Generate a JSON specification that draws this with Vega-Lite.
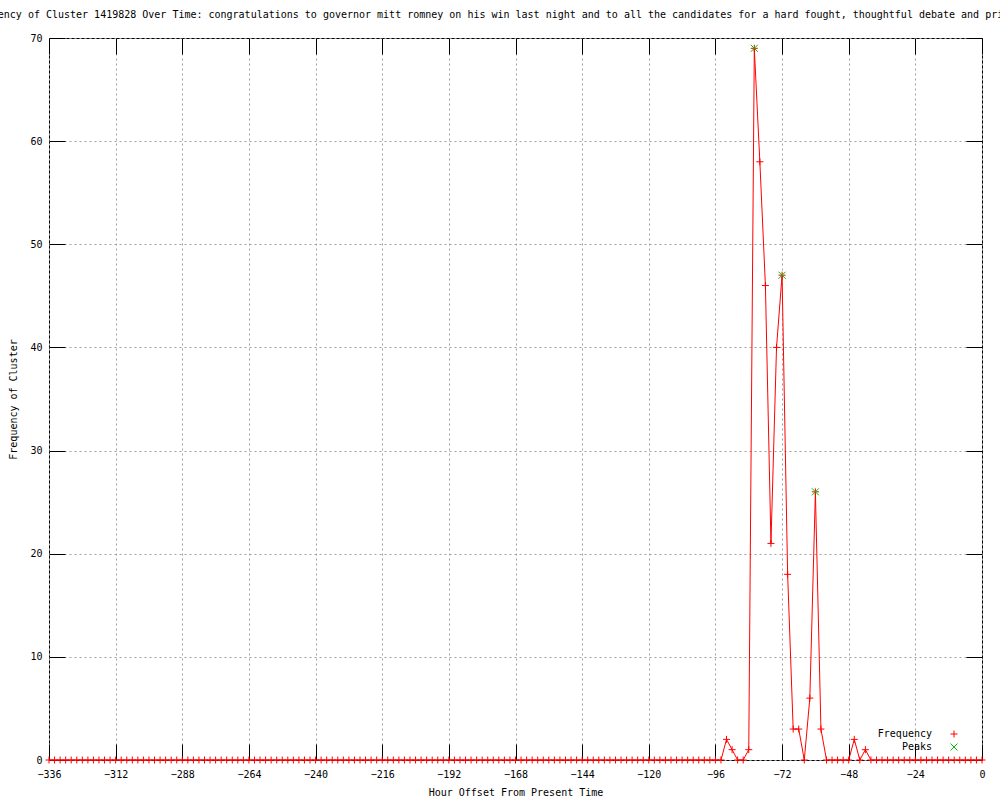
{
  "$schema": "https://vega.github.io/schema/vega-lite/v6.json",
  "width": 933,
  "height": 722,
  "autosize": {"type": "none"},
  "padding": {"left": 49, "top": 38, "right": 18, "bottom": 40},
  "background": "white",
  "title": {
    "text": "ency of Cluster 1419828 Over Time: congratulations to governor mitt romney on his win last night and to all the candidates for a hard fought, thoughtful debate and pri",
    "font": "DejaVu Sans Mono",
    "fontSize": 10,
    "fontWeight": "normal",
    "color": "black",
    "anchor": "middle",
    "frame": "group",
    "offset": 13,
    "dx": -15
  },
  "config": {
    "view": {"stroke": "black", "strokeWidth": 1},
    "axis": {
      "domain": false,
      "grid": true,
      "gridColor": "#a0a0a0",
      "gridDash": [2, 3],
      "gridWidth": 1,
      "gridOpacity": 1,
      "tickColor": "black",
      "tickWidth": 1,
      "tickSize": -16,
      "labelFont": "DejaVu Sans Mono",
      "labelFontSize": 10,
      "labelColor": "black",
      "titleFont": "DejaVu Sans Mono",
      "titleFontSize": 10,
      "titleFontWeight": "normal",
      "titleColor": "black",
      "labelFlush": false,
      "labelOverlap": false
    },
    "legend": {
      "orient": "none",
      "legendX": 900,
      "legendY": 691,
      "padding": 0,
      "symbolSize": 49,
      "symbolStrokeWidth": 1,
      "labelFont": "DejaVu Sans Mono",
      "labelFontSize": 10,
      "labelColor": "black",
      "labelAlign": "right",
      "labelOffset": -27,
      "rowPadding": 1
    }
  },
  "datasets": {
    "freq": [
      {"hour": -336, "freq": 0}, {"hour": -334, "freq": 0}, {"hour": -332, "freq": 0}, {"hour": -330, "freq": 0},
      {"hour": -328, "freq": 0}, {"hour": -326, "freq": 0}, {"hour": -324, "freq": 0}, {"hour": -322, "freq": 0},
      {"hour": -320, "freq": 0}, {"hour": -318, "freq": 0}, {"hour": -316, "freq": 0}, {"hour": -314, "freq": 0},
      {"hour": -312, "freq": 0}, {"hour": -310, "freq": 0}, {"hour": -308, "freq": 0}, {"hour": -306, "freq": 0},
      {"hour": -304, "freq": 0}, {"hour": -302, "freq": 0}, {"hour": -300, "freq": 0}, {"hour": -298, "freq": 0},
      {"hour": -296, "freq": 0}, {"hour": -294, "freq": 0}, {"hour": -292, "freq": 0}, {"hour": -290, "freq": 0},
      {"hour": -288, "freq": 0}, {"hour": -286, "freq": 0}, {"hour": -284, "freq": 0}, {"hour": -282, "freq": 0},
      {"hour": -280, "freq": 0}, {"hour": -278, "freq": 0}, {"hour": -276, "freq": 0}, {"hour": -274, "freq": 0},
      {"hour": -272, "freq": 0}, {"hour": -270, "freq": 0}, {"hour": -268, "freq": 0}, {"hour": -266, "freq": 0},
      {"hour": -264, "freq": 0}, {"hour": -262, "freq": 0}, {"hour": -260, "freq": 0}, {"hour": -258, "freq": 0},
      {"hour": -256, "freq": 0}, {"hour": -254, "freq": 0}, {"hour": -252, "freq": 0}, {"hour": -250, "freq": 0},
      {"hour": -248, "freq": 0}, {"hour": -246, "freq": 0}, {"hour": -244, "freq": 0}, {"hour": -242, "freq": 0},
      {"hour": -240, "freq": 0}, {"hour": -238, "freq": 0}, {"hour": -236, "freq": 0}, {"hour": -234, "freq": 0},
      {"hour": -232, "freq": 0}, {"hour": -230, "freq": 0}, {"hour": -228, "freq": 0}, {"hour": -226, "freq": 0},
      {"hour": -224, "freq": 0}, {"hour": -222, "freq": 0}, {"hour": -220, "freq": 0}, {"hour": -218, "freq": 0},
      {"hour": -216, "freq": 0}, {"hour": -214, "freq": 0}, {"hour": -212, "freq": 0}, {"hour": -210, "freq": 0},
      {"hour": -208, "freq": 0}, {"hour": -206, "freq": 0}, {"hour": -204, "freq": 0}, {"hour": -202, "freq": 0},
      {"hour": -200, "freq": 0}, {"hour": -198, "freq": 0}, {"hour": -196, "freq": 0}, {"hour": -194, "freq": 0},
      {"hour": -192, "freq": 0}, {"hour": -190, "freq": 0}, {"hour": -188, "freq": 0}, {"hour": -186, "freq": 0},
      {"hour": -184, "freq": 0}, {"hour": -182, "freq": 0}, {"hour": -180, "freq": 0}, {"hour": -178, "freq": 0},
      {"hour": -176, "freq": 0}, {"hour": -174, "freq": 0}, {"hour": -172, "freq": 0}, {"hour": -170, "freq": 0},
      {"hour": -168, "freq": 0}, {"hour": -166, "freq": 0}, {"hour": -164, "freq": 0}, {"hour": -162, "freq": 0},
      {"hour": -160, "freq": 0}, {"hour": -158, "freq": 0}, {"hour": -156, "freq": 0}, {"hour": -154, "freq": 0},
      {"hour": -152, "freq": 0}, {"hour": -150, "freq": 0}, {"hour": -148, "freq": 0}, {"hour": -146, "freq": 0},
      {"hour": -144, "freq": 0}, {"hour": -142, "freq": 0}, {"hour": -140, "freq": 0}, {"hour": -138, "freq": 0},
      {"hour": -136, "freq": 0}, {"hour": -134, "freq": 0}, {"hour": -132, "freq": 0}, {"hour": -130, "freq": 0},
      {"hour": -128, "freq": 0}, {"hour": -126, "freq": 0}, {"hour": -124, "freq": 0}, {"hour": -122, "freq": 0},
      {"hour": -120, "freq": 0}, {"hour": -118, "freq": 0}, {"hour": -116, "freq": 0}, {"hour": -114, "freq": 0},
      {"hour": -112, "freq": 0}, {"hour": -110, "freq": 0}, {"hour": -108, "freq": 0}, {"hour": -106, "freq": 0},
      {"hour": -104, "freq": 0}, {"hour": -102, "freq": 0}, {"hour": -100, "freq": 0}, {"hour": -98, "freq": 0},
      {"hour": -96, "freq": 0}, {"hour": -94, "freq": 0}, {"hour": -92, "freq": 2}, {"hour": -90, "freq": 1},
      {"hour": -88, "freq": 0}, {"hour": -86, "freq": 0}, {"hour": -84, "freq": 1}, {"hour": -82, "freq": 69},
      {"hour": -80, "freq": 58}, {"hour": -78, "freq": 46}, {"hour": -76, "freq": 21}, {"hour": -74, "freq": 40},
      {"hour": -72, "freq": 47}, {"hour": -70, "freq": 18}, {"hour": -68, "freq": 3}, {"hour": -66, "freq": 3},
      {"hour": -64, "freq": 0}, {"hour": -62, "freq": 6}, {"hour": -60, "freq": 26}, {"hour": -58, "freq": 3},
      {"hour": -56, "freq": 0}, {"hour": -54, "freq": 0}, {"hour": -52, "freq": 0}, {"hour": -50, "freq": 0},
      {"hour": -48, "freq": 0}, {"hour": -46, "freq": 2}, {"hour": -44, "freq": 0}, {"hour": -42, "freq": 1},
      {"hour": -40, "freq": 0}, {"hour": -38, "freq": 0}, {"hour": -36, "freq": 0}, {"hour": -34, "freq": 0},
      {"hour": -32, "freq": 0}, {"hour": -30, "freq": 0}, {"hour": -28, "freq": 0}, {"hour": -26, "freq": 0},
      {"hour": -24, "freq": 0}, {"hour": -22, "freq": 0}, {"hour": -20, "freq": 0}, {"hour": -18, "freq": 0},
      {"hour": -16, "freq": 0}, {"hour": -14, "freq": 0}, {"hour": -12, "freq": 0}, {"hour": -10, "freq": 0},
      {"hour": -8, "freq": 0}, {"hour": -6, "freq": 0}, {"hour": -4, "freq": 0}, {"hour": -2, "freq": 0},
      {"hour": 0, "freq": 0}
    ],
    "peaks": [
      {"hour": -82, "freq": 69},
      {"hour": -72, "freq": 47},
      {"hour": -60, "freq": 26}
    ]
  },
  "layer": [
    {
      "data": {"name": "freq"},
      "mark": {"type": "line", "color": "#ff0000", "strokeWidth": 1},
      "encoding": {
        "x": {
          "field": "hour", "type": "quantitative",
          "scale": {"domain": [-336, 0], "nice": false, "zero": false},
          "axis": {
            "orient": "bottom",
            "values": [-336, -312, -288, -264, -240, -216, -192, -168, -144, -120, -96, -72, -48, -24, 0],
            "title": "Hour Offset From Present Time",
            "labelPadding": 25,
            "titlePadding": 8
          }
        },
        "y": {
          "field": "freq", "type": "quantitative",
          "scale": {"domain": [0, 70], "nice": false},
          "axis": {
            "orient": "left",
            "values": [0, 10, 20, 30, 40, 50, 60, 70],
            "title": "Frequency of Cluster",
            "labelPadding": 23,
            "titlePadding": 11
          }
        }
      }
    },
    {
      "data": {"name": "freq"},
      "mark": {"type": "point", "filled": false, "size": 49, "strokeWidth": 1, "opacity": 1},
      "encoding": {
        "x": {"field": "hour", "type": "quantitative", "axis": null},
        "y": {"field": "freq", "type": "quantitative", "axis": null},
        "color": {
          "datum": "Frequency",
          "scale": {"domain": ["Frequency", "Peaks"], "range": ["#ff0000", "#00c000"]},
          "legend": {"title": null}
        },
        "shape": {
          "datum": "Frequency",
          "scale": {"domain": ["Frequency", "Peaks"], "range": ["M-1,0L1,0M0,-1L0,1", "M-1,-1L1,1M-1,1L1,-1"]},
          "legend": {"title": null}
        }
      }
    },
    {
      "data": {"name": "peaks"},
      "mark": {"type": "point", "filled": false, "size": 49, "strokeWidth": 1, "opacity": 1},
      "encoding": {
        "x": {"field": "hour", "type": "quantitative", "axis": null},
        "y": {"field": "freq", "type": "quantitative", "axis": null},
        "color": {"datum": "Peaks"},
        "shape": {"datum": "Peaks"}
      }
    },
    {
      "data": {"name": "peaks"},
      "mark": {"type": "point", "opacity": 0},
      "encoding": {
        "x": {
          "field": "hour", "type": "quantitative",
          "axis": {
            "orient": "top",
            "values": [-336, -312, -288, -264, -240, -216, -192, -168, -144, -120, -96, -72, -48, -24, 0],
            "labels": false, "grid": false, "title": null
          }
        },
        "y": {
          "field": "freq", "type": "quantitative",
          "axis": {
            "orient": "right",
            "values": [0, 10, 20, 30, 40, 50, 60, 70],
            "labels": false, "grid": false, "title": null
          }
        }
      }
    }
  ],
  "resolve": {"axis": {"x": "independent", "y": "independent"}}
}
